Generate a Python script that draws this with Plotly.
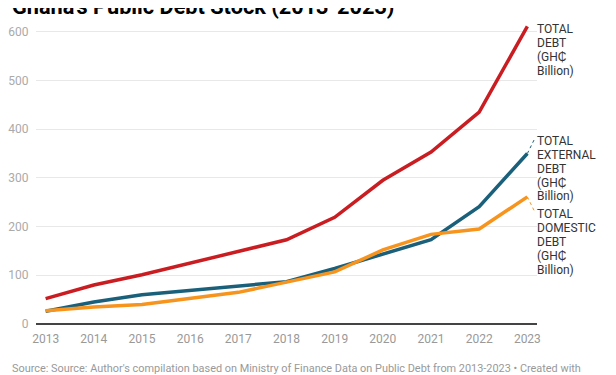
import plotly.graph_objects as go

years = [2013, 2014, 2015, 2016, 2017, 2018, 2019, 2020, 2021, 2022, 2023]
total_debt = [52, 80, 101, 125, 148, 173, 219, 295, 353, 435, 611]
external_debt = [26, 45, 60, 69, 77, 87, 114, 144, 173, 241, 350]
domestic_debt = [27, 35, 40, 52, 65, 86, 107, 152, 184, 195, 261]

series_names = ["TOTAL DEBT (GH₵ Billion)", "TOTAL EXTERNAL DEBT (GH₵ Billion)",
                "TOTAL DOMESTIC DEBT (GH₵ Billion)"]
label_lines = [["TOTAL", "DEBT", "(GH₵", "Billion)"],
               ["TOTAL", "EXTERNAL", "DEBT", "(GH₵", "Billion)"],
               ["TOTAL", "DOMESTIC", "DEBT", "(GH₵", "Billion)"]]
label_y = [563, 319, 168]
colors = ["#c91d22", "#1a607a", "#f7941d"]
y_ticks = [0, 100, 200, 300, 400, 500, 600]

title = "Ghana's Public Debt Stock (2013-2023)"
source = "Source: Source: Author's compilation based on Ministry of Finance Data on Public Debt from 2013-2023 • Created with"

fig = go.Figure()
all_series = [total_debt, external_debt, domestic_debt]
for name, vals, c in zip(series_names, all_series, colors):
    fig.add_trace(go.Scatter(x=years, y=vals, mode="lines", name=name,
                             line=dict(color=c, width=3.5), hoverinfo="skip"))

font_family = "Roboto, Arial, sans-serif"
line_gap = 13.9
annotations = []
for lines, ly in zip(label_lines, label_y):
    n = len(lines)
    for i, ln in enumerate(lines):
        annotations.append(dict(xref="paper", x=1, xanchor="left", xshift=-2,
                                yref="y", y=ly, yanchor="middle", align="left",
                                yshift=-(i - (n - 1) / 2) * line_gap,
                                text=ln, showarrow=False,
                                font=dict(family=font_family, size=12, color="#333333")))

shapes = []
# dotted connectors from line end to its label (external and domestic)
for vals, ly_off, c in [(external_debt, 30, colors[1]), (domestic_debt, -30, colors[2])]:
    shapes.append(dict(type="line", xref="x", yref="y",
                       x0=years[-1], y0=vals[-1], x1=years[-1] + 0.15, y1=vals[-1] + ly_off,
                       line=dict(color=c, width=1, dash="dot")))

annotations.append(dict(xref="paper", x=-0.052, xanchor="left", yref="paper", y=1.052,
                        yanchor="middle", text="<b>" + title + "</b>", showarrow=False,
                        font=dict(family=font_family, size=21.7, color="#000000")))
annotations.append(dict(xref="paper", x=-0.052, xanchor="left", yref="paper", y=-0.149,
                        yanchor="middle", text=source, showarrow=False,
                        font=dict(family=font_family, size=10.9, color="#999999")))

fig.update_layout(
    width=616, height=375,
    margin=dict(l=28, r=87, t=14, b=59),
    paper_bgcolor="white", plot_bgcolor="white",
    showlegend=False,
    font=dict(family=font_family),
    annotations=annotations,
    shapes=shapes,
    xaxis=dict(range=[2012.8, 2023.2], tickvals=years, ticktext=[str(y) for y in years],
               showgrid=False, zeroline=False, showline=False, automargin=False,
               ticks="outside", ticklen=4, tickcolor="rgba(0,0,0,0)",
               tickfont=dict(size=12, color="#999999", family=font_family)),
    yaxis=dict(range=[0, 620], tickvals=y_ticks, showgrid=True, gridcolor="#e8e8e8",
               gridwidth=1, zeroline=True, zerolinecolor="#444444", zerolinewidth=1.5,
               automargin=False,
               ticks="outside", ticklen=4, tickcolor="rgba(0,0,0,0)",
               tickfont=dict(size=12, color="#aaaaaa", family=font_family)),
)

fig.write_html("out.html")
